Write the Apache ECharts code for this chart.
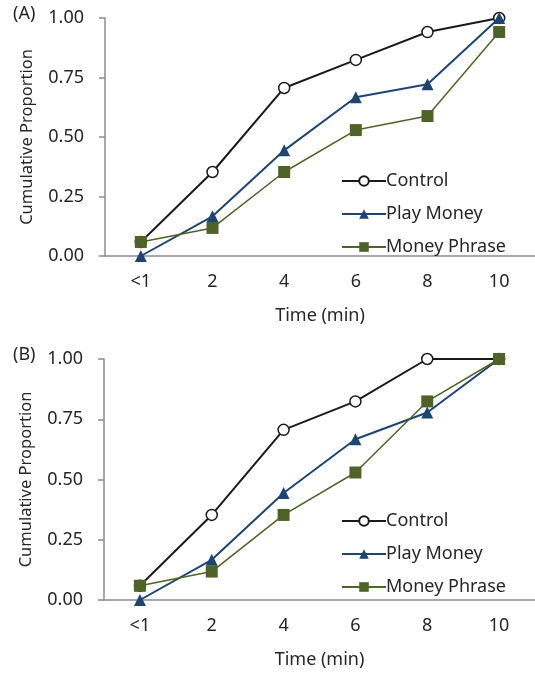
<!DOCTYPE html>
<html>
<head>
<meta charset="utf-8">
<script src="https://cdn.jsdelivr.net/npm/echarts@6/dist/echarts.min.js"></script>
<style>
  html, body { margin: 0; padding: 0; background: #fff; }
  #chart { width: 535px; height: 673px; }
</style>
</head>
<body>
<div id="chart"></div>
<script>
// time bins
var categories = ['<1', '2', '4', '6', '8', '10']
var yTicks = [0, 0.25, 0.5, 0.75, 1]

// panel A
var controlA = [0.059, 0.353, 0.706, 0.824, 0.941, 1.0]
var playMoneyA = [0, 0.167, 0.444, 0.667, 0.722, 1.0]
var moneyPhraseA = [0.059, 0.118, 0.353, 0.529, 0.588, 0.941]

// panel B
var controlB = [0.059, 0.353, 0.706, 0.824, 1.0, 1.0]
var playMoneyB = [0, 0.167, 0.444, 0.667, 0.778, 1.0]
var moneyPhraseB = [0.059, 0.118, 0.353, 0.529, 0.824, 1.0]

var font = 'Noto Sans'
var textColor = '#262626'
var axisColor = '#8c8c8c'

function xAxisFor (idx) {
  return {
    type: 'category',
    gridIndex: idx,
    data: categories,
    boundaryGap: true,
    name: 'Time (min)',
    nameLocation: 'middle',
    nameGap: 51,
    nameTextStyle: { fontFamily: font, fontSize: 18, color: textColor },
    axisLine: { lineStyle: { color: axisColor, width: 1.5 } },
    axisTick: { length: 6, lineStyle: { color: axisColor, width: 1.5 } },
    axisLabel: { margin: 17, fontFamily: font, fontSize: 18, color: textColor }
  }
}

function yAxisFor (idx) {
  return {
    type: 'value',
    gridIndex: idx,
    min: yTicks[0],
    max: yTicks[yTicks.length - 1],
    interval: 0.25,
    name: 'Cumulative Proportion',
    nameLocation: 'middle',
    nameGap: 69,
    nameTextStyle: { fontFamily: font, fontSize: 16.5, color: textColor },
    axisLine: { show: true, lineStyle: { color: axisColor, width: 1.5 } },
    axisTick: { show: true, length: 6, lineStyle: { color: axisColor, width: 1.5 } },
    splitLine: { show: false },
    axisLabel: {
      margin: 21,
      fontFamily: font,
      fontSize: 18,
      color: textColor,
      formatter: function (v) { return v.toFixed(2) }
    }
  }
}

function seriesFor (idx, control, play, phrase) {
  return [
    {
      name: 'Control',
      type: 'line',
      xAxisIndex: idx,
      yAxisIndex: idx,
      data: control,
      symbol: 'circle',
      symbolSize: 11,
      z: 2,
      lineStyle: { color: '#1a1a1a', width: 2 },
      itemStyle: { color: '#ffffff', borderColor: '#1a1a1a', borderWidth: 1.5 }
    },
    {
      name: 'Play Money',
      type: 'line',
      xAxisIndex: idx,
      yAxisIndex: idx,
      data: play,
      symbol: 'triangle',
      symbolSize: 12,
      z: 3,
      lineStyle: { color: '#1f4470', width: 2 },
      itemStyle: { color: '#1f4470', borderColor: '#1f4470', borderWidth: 0 }
    },
    {
      name: 'Money Phrase',
      type: 'line',
      xAxisIndex: idx,
      yAxisIndex: idx,
      data: phrase,
      symbol: 'rect',
      symbolSize: 12,
      z: 4,
      lineStyle: { color: '#4f6228', width: 1.5 },
      itemStyle: { color: '#4f6228', borderColor: '#4f6228', borderWidth: 0 }
    }
  ]
}

function legendFor (top) {
  return {
    orient: 'vertical',
    left: 336,
    top: top,
    itemWidth: 44,
    itemHeight: 12,
    itemGap: 15,
    selectedMode: false,
    textStyle: { fontFamily: font, fontSize: 18, color: textColor, padding: [0, 0, 0, -5] },
    data: ['Control', 'Play Money', 'Money Phrase']
  }
}

var myChart = echarts.init(document.getElementById('chart'), null, { renderer: 'canvas' })

var option = {
  backgroundColor: '#ffffff',
  animation: false,
  grid: [
    { left: 105, top: 18, width: 432, height: 238 },
    { left: 104, top: 359, width: 432, height: 241 }
  ],
  xAxis: [xAxisFor(0), xAxisFor(1)],
  yAxis: [yAxisFor(0), yAxisFor(1)],
  legend: [legendFor(167), legendFor(507)],
  graphic: [
    { type: 'text', left: 13, top: 5, style: { text: '(A)', font: '18px "Noto Sans"', fill: textColor } },
    { type: 'text', left: 13, top: 346, style: { text: '(B)', font: '18px "Noto Sans"', fill: textColor } }
  ],
  series: seriesFor(0, controlA, playMoneyA, moneyPhraseA).concat(seriesFor(1, controlB, playMoneyB, moneyPhraseB))
}

myChart.setOption(option)
</script>
</body>
</html>
